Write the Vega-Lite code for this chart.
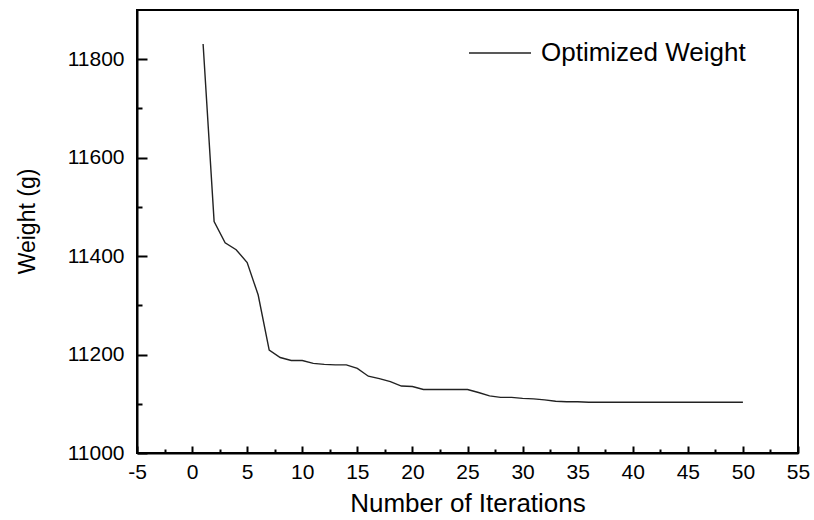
{
  "$schema": "https://vega.github.io/schema/vega-lite/v6.json",
  "width": 661,
  "height": 443,
  "autosize": {"type": "none"},
  "padding": {"left": 137, "top": 10, "right": 16, "bottom": 67},
  "background": "white",
  "config": {
    "view": {"stroke": "black", "strokeWidth": 2},
    "font": "Liberation Sans",
    "axis": {
      "grid": false,
      "domainColor": "black",
      "domainWidth": 2,
      "tickColor": "black",
      "tickWidth": 2,
      "labelColor": "black",
      "labelFont": "Liberation Sans",
      "titleFont": "Liberation Sans",
      "titleColor": "black",
      "titleFontWeight": "normal"
    }
  },
  "data": {
    "values": [
      {"iter": 1, "weight": 11831, "series": "Optimized Weight"},
      {"iter": 2, "weight": 11470, "series": "Optimized Weight"},
      {"iter": 3, "weight": 11427, "series": "Optimized Weight"},
      {"iter": 4, "weight": 11413, "series": "Optimized Weight"},
      {"iter": 5, "weight": 11387, "series": "Optimized Weight"},
      {"iter": 6, "weight": 11321, "series": "Optimized Weight"},
      {"iter": 7, "weight": 11209, "series": "Optimized Weight"},
      {"iter": 8, "weight": 11194, "series": "Optimized Weight"},
      {"iter": 9, "weight": 11188, "series": "Optimized Weight"},
      {"iter": 10, "weight": 11188, "series": "Optimized Weight"},
      {"iter": 11, "weight": 11182, "series": "Optimized Weight"},
      {"iter": 12, "weight": 11180, "series": "Optimized Weight"},
      {"iter": 13, "weight": 11179, "series": "Optimized Weight"},
      {"iter": 14, "weight": 11179, "series": "Optimized Weight"},
      {"iter": 15, "weight": 11172, "series": "Optimized Weight"},
      {"iter": 16, "weight": 11156, "series": "Optimized Weight"},
      {"iter": 17, "weight": 11151, "series": "Optimized Weight"},
      {"iter": 18, "weight": 11145, "series": "Optimized Weight"},
      {"iter": 19, "weight": 11136, "series": "Optimized Weight"},
      {"iter": 20, "weight": 11135, "series": "Optimized Weight"},
      {"iter": 21, "weight": 11129, "series": "Optimized Weight"},
      {"iter": 22, "weight": 11129, "series": "Optimized Weight"},
      {"iter": 23, "weight": 11129, "series": "Optimized Weight"},
      {"iter": 24, "weight": 11129, "series": "Optimized Weight"},
      {"iter": 25, "weight": 11129, "series": "Optimized Weight"},
      {"iter": 26, "weight": 11123, "series": "Optimized Weight"},
      {"iter": 27, "weight": 11116, "series": "Optimized Weight"},
      {"iter": 28, "weight": 11113, "series": "Optimized Weight"},
      {"iter": 29, "weight": 11113, "series": "Optimized Weight"},
      {"iter": 30, "weight": 11111, "series": "Optimized Weight"},
      {"iter": 31, "weight": 11110, "series": "Optimized Weight"},
      {"iter": 32, "weight": 11108, "series": "Optimized Weight"},
      {"iter": 33, "weight": 11105, "series": "Optimized Weight"},
      {"iter": 34, "weight": 11104, "series": "Optimized Weight"},
      {"iter": 35, "weight": 11104, "series": "Optimized Weight"},
      {"iter": 36, "weight": 11103, "series": "Optimized Weight"},
      {"iter": 37, "weight": 11103, "series": "Optimized Weight"},
      {"iter": 38, "weight": 11103, "series": "Optimized Weight"},
      {"iter": 39, "weight": 11103, "series": "Optimized Weight"},
      {"iter": 40, "weight": 11103, "series": "Optimized Weight"},
      {"iter": 41, "weight": 11103, "series": "Optimized Weight"},
      {"iter": 42, "weight": 11103, "series": "Optimized Weight"},
      {"iter": 43, "weight": 11103, "series": "Optimized Weight"},
      {"iter": 44, "weight": 11103, "series": "Optimized Weight"},
      {"iter": 45, "weight": 11103, "series": "Optimized Weight"},
      {"iter": 46, "weight": 11103, "series": "Optimized Weight"},
      {"iter": 47, "weight": 11103, "series": "Optimized Weight"},
      {"iter": 48, "weight": 11103, "series": "Optimized Weight"},
      {"iter": 49, "weight": 11103, "series": "Optimized Weight"},
      {"iter": 50, "weight": 11103, "series": "Optimized Weight"}
    ]
  },
  "layer": [
    {
      "mark": {"type": "line", "strokeWidth": 1.4, "interpolate": "linear"},
      "encoding": {
        "x": {
          "field": "iter",
          "type": "quantitative",
          "scale": {"domain": [-5, 55], "nice": false, "zero": false},
          "axis": {
            "orient": "bottom",
            "values": [-5, 0, 5, 10, 15, 20, 25, 30, 35, 40, 45, 50, 55],
            "labelExpr": "'' + datum.value",
            "tickSize": -7,
            "labelPadding": 15,
            "labelFontSize": 21,
            "labelFlush": false,
            "title": "Number of Iterations",
            "titleFontSize": 26,
            "titleY": 50,
            "titleBaseline": "middle"
          }
        },
        "y": {
          "field": "weight",
          "type": "quantitative",
          "scale": {"domain": [11000, 11900], "nice": false, "zero": false},
          "axis": {
            "orient": "left",
            "values": [11000, 11200, 11400, 11600, 11800],
            "labelExpr": "'' + datum.value",
            "tickSize": -10,
            "labelPadding": 23,
            "labelFontSize": 21,
            "labelFlush": false,
            "title": "Weight (g)",
            "titleFontSize": 23,
            "titleX": -110,
            "titleY": 211,
            "titleBaseline": "middle"
          }
        },
        "color": {
          "field": "series",
          "type": "nominal",
          "scale": {"range": ["#222222"]},
          "legend": {
            "orient": "none",
            "legendX": 331,
            "legendY": 11,
            "title": null,
            "padding": 0,
            "symbolType": "stroke",
            "symbolSize": 3844,
            "symbolStrokeWidth": 1.5,
            "symbolStrokeColor": "#555555",
            "symbolOffset": 0,
            "labelOffset": 9,
            "labelFontSize": 26,
            "labelLimit": 400,
            "labelFont": "Liberation Sans",
            "labelColor": "black"
          }
        }
      }
    },
    {
      "mark": {"type": "line", "opacity": 0},
      "encoding": {
        "x": {
          "field": "iter",
          "type": "quantitative",
          "axis": {
            "orient": "bottom",
            "values": [-2.5, 2.5, 7.5, 12.5, 17.5, 22.5, 27.5, 32.5, 37.5, 42.5, 47.5, 52.5],
            "tickSize": -4,
            "labels": false,
            "domain": false,
            "title": null
          }
        },
        "y": {
          "field": "weight",
          "type": "quantitative",
          "axis": {
            "orient": "left",
            "values": [11100, 11300, 11500, 11700],
            "tickSize": -5,
            "labels": false,
            "domain": false,
            "title": null
          }
        }
      }
    }
  ],
  "resolve": {"axis": {"x": "independent", "y": "independent"}}
}
